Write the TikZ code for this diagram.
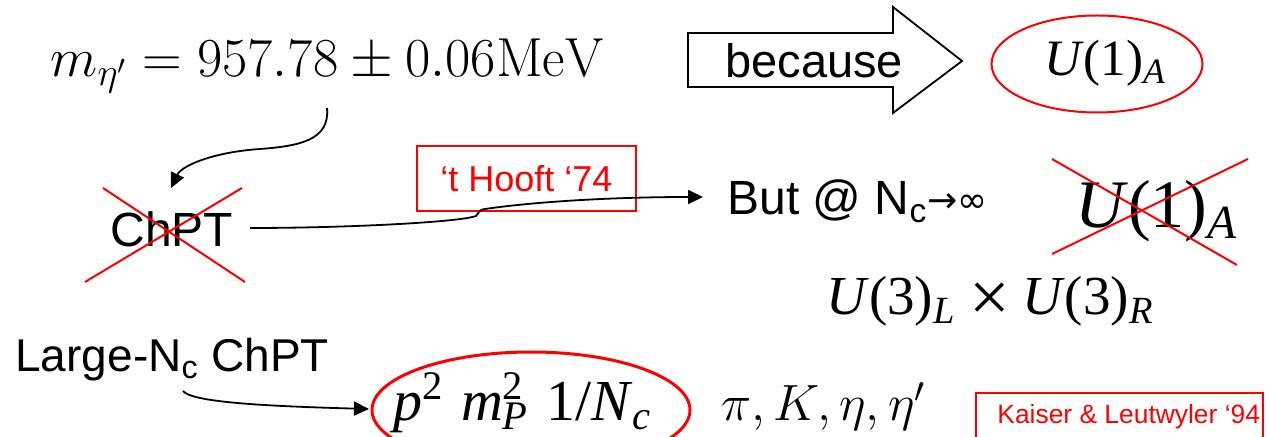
\RequirePackage{fix-cm}
\documentclass[tikz,border=0pt]{standalone}
\usepackage{fontspec}
\newfontfamily\arialfont{Liberation Sans}
\newfontfamily\timesfont{Liberation Serif}
\newfontfamily\symfont{DejaVu Sans}
\usepackage{tikz}
\usetikzlibrary{positioning,shapes.geometric,arrows.meta}
\definecolor{slideRed}{HTML}{FF0000}

\begin{document}
\begin{tikzpicture}[x=0.5pt,y=-0.5pt,
    sans/.style={font=\arialfont\fontsize{#1}{#1}\selectfont,inner sep=0pt},
    serif/.style={font=\timesfont\fontsize{#1}{#1}\selectfont,inner sep=0pt},
    lm/.style={font=\fontsize{#1}{#1}\selectfont,inner sep=0pt},
    redx/.style={slideRed,line width=1pt},
    link/.style={-{Triangle[length=7.5pt,width=7pt]},line width=0.9pt}]
    \clip (0,0) rectangle (1267,437);
    % top row: mass, block arrow, anomaly
    \node[lm=27.5,anchor=base west] (mass) at (50,77)
      {$m_{\eta'} = 957.78 \pm 0.06\mathrm{MeV}$};
    \draw[line width=0.9pt] (688,33) -- (893,33) -- (893,7) -- (962,61)
      -- (893,113) -- (893,87) -- (688,87) -- cycle;
    \node[sans=23.5,anchor=base west] (because) at (725,78) {because};
    \node[ellipse,draw=slideRed,line width=1pt,minimum width=105.5pt,
      minimum height=48.5pt,inner sep=0pt] (anomaly) at (1097,64) {};
    \node[serif=25.5,anchor=base] (anomtext) at (1105,76)
      {\textit{U}(1)\textsubscript{\textit{A}}};
    % middle row
    \coordinate (massdrop) at (327,108);
    \coordinate (chpttop) at (171,188);
    \draw[link] (massdrop) .. controls (330,140) and (300,146) .. (260,149)
      .. controls (215,152) and (182,165) .. (chpttop);
    \node[sans=24,anchor=base west] (chpt) at (110,247) {ChPT};
    \draw[redx] (103,188) -- (245,282);
    \draw[redx] (242,188) -- (85,282);
    \node[draw=slideRed,line width=1pt,sans=18,text=slideRed,
      minimum width=109.5pt,minimum height=32.5pt] (hooft) at (526.5,178.5)
      {‘t Hooft ‘74};
    \coordinate (chptout) at (250,228);
    \coordinate (butin) at (703,197);
    \draw[link] (chptout) .. controls (350,228) and (460,222) .. (476,216)
      .. controls (479,213) and (478,210) .. (485,209)
      .. controls (540,201) and (620,197) .. (butin);
    \node[sans=24,anchor=base west] (butnc) at (727,215)
      {But @ N\textsubscript{c}\raisebox{1pt}{\symfont\fontsize{18}{18}\selectfont →∞}};
    \node[serif=34,anchor=base west] (anomcross) at (1075,228)
      {\textit{U}(1)\textsubscript{\textit{A}}};
    \draw[redx] (1052,159) -- (1237,265);
    \draw[redx] (1248,159) -- (1052,254);
    \node[serif=27.5,anchor=base west] (chiral) at (826,315)
      {\textit{U}(3)\textsubscript{\textit{L}}\hspace{7pt}\raisebox{-3.5pt}{\fontsize{36}{36}\selectfont ×}\hspace{6pt}\textit{U}(3)\textsubscript{\textit{R}}};
    % bottom row
    \node[sans=23,anchor=base west] (largen) at (15,372) {Large-N\textsubscript{c} ChPT};
    \coordinate (largenout) at (183,391);
    \coordinate (powersin) at (369,409);
    \draw[link] (largenout) .. controls (192,402) and (260,406) .. (powersin);
    \node[ellipse,draw=slideRed,line width=1.5pt,minimum width=159pt,
      minimum height=58pt,inner sep=0pt] (counting) at (531,410) {};
    \node[serif=29,anchor=base west] (powers) at (393,421)
      {\textit{p}\textsuperscript{2}\hspace{0.3em}\textit{m}\rlap{\textsuperscript{2}}\textsubscript{\textit{P}}\hspace{0.3em}1/\textit{N}\textsubscript{\textit{c}}};
    \node[lm=25.5,anchor=base west] (mesons) at (721,421) {$\pi, K, \eta, \eta'$};
    \node[draw=slideRed,line width=1pt,anchor=north west,minimum width=143.5pt,
      minimum height=35pt,inner sep=0pt] (kaiserbox) at (975,392) {};
    \node[sans=13.2,text=slideRed,anchor=base west] (kaiser) at (997,423)
      {Kaiser \& Leutwyler ‘94};
\end{tikzpicture}
\end{document}
